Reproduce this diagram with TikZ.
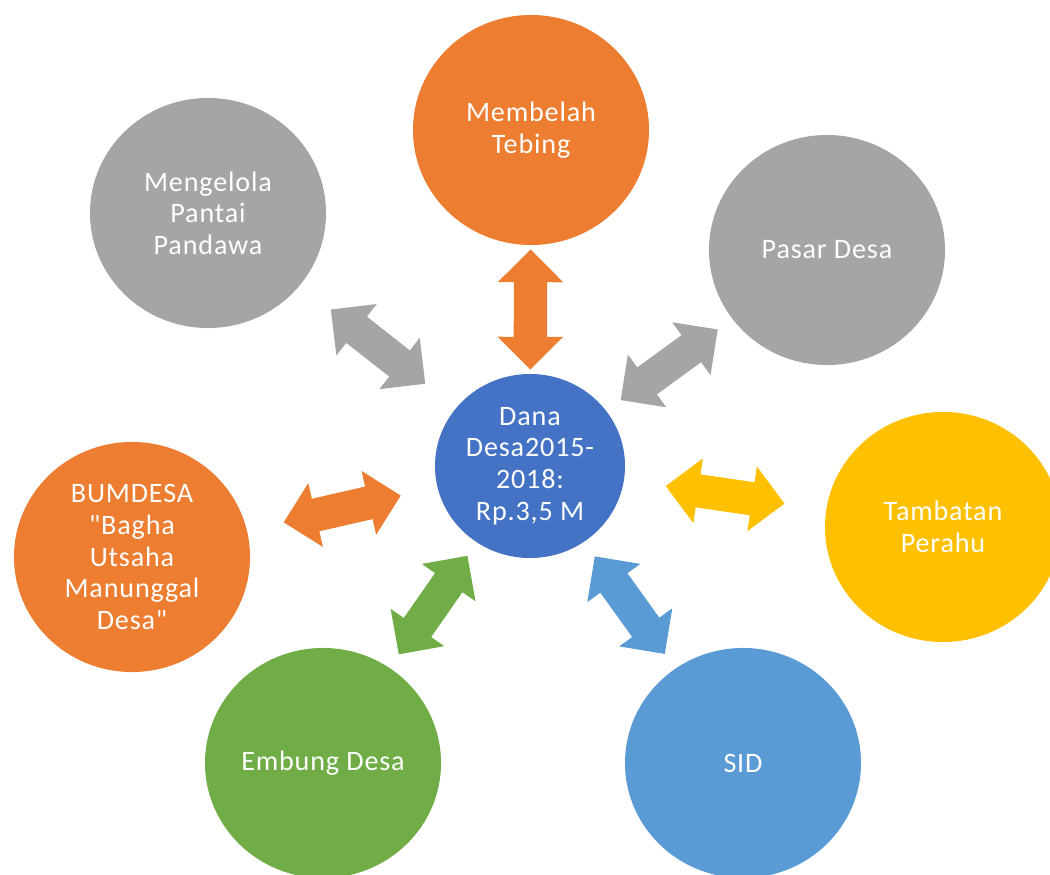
\documentclass[tikz,border=0pt]{standalone}
\usepackage{fontspec}
\newfontfamily\carlito{Carlito}[LetterSpace=3]
\usetikzlibrary{shapes.geometric,shapes.arrows}
\definecolor{orangeO}{HTML}{ED7D31}
\definecolor{greyO}{HTML}{A5A5A5}
\definecolor{yellowO}{HTML}{FFC000}
\definecolor{blueO}{HTML}{4472C4}
\definecolor{lblueO}{HTML}{5B9BD5}
\definecolor{greenO}{HTML}{70AD47}

\begin{document}
\begin{tikzpicture}[x=0.025cm,y=-0.025cm,
  circ/.style={ellipse,inner sep=0,minimum width=5.9cm,minimum height=5.75cm,
    text=white,align=center,font=\carlito\fontsize{20}{22.5}\selectfont},
  dbl/.style={double arrow,sloped,inner xsep=0,inner ysep=0.41cm,minimum height=3cm,
    double arrow head extend=0.4cm,double arrow tip angle=90}]
\clip (0,0) rectangle (1050,874);
\node[circ,fill=blueO,minimum width=4.75cm,minimum height=4.6cm] (dana) at (530,466)
  {Dana\\Desa2015-\\2018:\\Rp.3,5 M};
\node[circ,fill=orangeO] (tebing) at (531,130) {Membelah\\Tebing};
\node[circ,fill=greyO] (pantai) at (208,213) {Mengelola\\Pantai\\Pandawa};
\node[circ,fill=greyO] (pasar) at (827,250) {Pasar Desa};
\node[circ,fill=yellowO] (perahu) at (943,527) {Tambatan\\Perahu};
\node[circ,fill=lblueO] (sid) at (743,763) {SID};
\node[circ,fill=greenO] (embung) at (323,763) {Embung Desa};
\node[circ,fill=orangeO] (bumdes) at (132,557)
  {BUMDESA\\"Bagha\\Utsaha\\Manunggal\\Desa"};
\path (dana)--node[dbl,fill=orangeO] {} (tebing);
\path (dana)--node[dbl,fill=greyO] {} (pantai);
\path (dana)--node[dbl,fill=greyO] {} (pasar);
\path (dana)--node[dbl,fill=yellowO] {} (perahu);
\path (dana)--node[dbl,fill=lblueO] {} (sid);
\path (dana)--node[dbl,fill=greenO] {} (embung);
\path (dana)--node[dbl,fill=orangeO] {} (bumdes);
\end{tikzpicture}
\end{document}
